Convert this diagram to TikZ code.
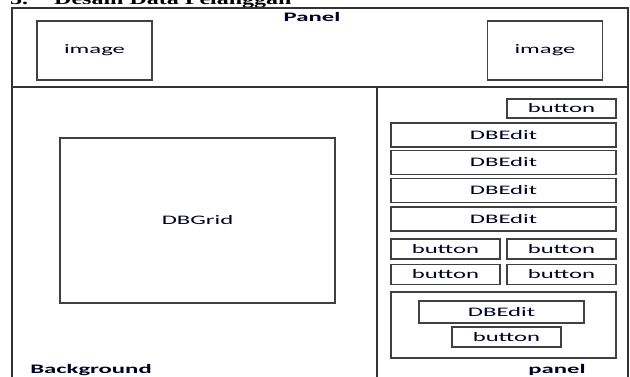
\documentclass[tikz,border=0pt]{standalone}
\usepackage{fontspec}
\setmainfont[FakeStretch=1.9]{Carlito}
\newfontfamily\headfont[FakeStretch=1.5]{Liberation Serif}
\begin{document}
\begin{tikzpicture}[x=1pt,y=-1pt,
  box/.style={rectangle,draw=black!75,line width=1.2pt,inner sep=0pt,font=\fontsize{13}{15}\selectfont,text=black!85!blue},
  lbl/.style={font=\fontsize{13}{15}\selectfont\bfseries,text=black!85!blue,inner sep=0pt},
  frame/.style={draw=black!80,line width=1.6pt}]
\useasboundingbox (0,0) rectangle (630,376);
\node[anchor=base west,inner sep=0pt,font=\fontsize{16}{18}\selectfont\headfont\bfseries] (head) at (10,4) {3.\hspace{26pt}Desain Data Pelanggan};
% frame
\draw[frame] (12,390) -- (12,8) -- (628,8) -- (628,390);
\draw[frame] (12,87) -- (628,87);
\draw[frame] (377,87) -- (377,390);
\node[lbl] (panel) at (312,17) {Panel};
\node[lbl] (bg) at (91,370) {Background};
\node[lbl] (pnl) at (557,370) {panel};
% header images
\node[box,minimum width=115,minimum height=59] (imgL) at (94.5,50.5) {image};
\node[box,minimum width=115,minimum height=59] (imgR) at (545,50.5) {image};
% grid
\node[box,minimum width=275,minimum height=165] (grid) at (197.5,220.5) {DBGrid};
% right panel
\node[box,minimum width=109,minimum height=19] (btnTop) at (561.5,108.5) {button};
\node[box,minimum width=225,minimum height=24] (editA) at (503.5,135) {DBEdit};
\node[box,minimum width=225,minimum height=24] (editB) at (503.5,162.5) {DBEdit};
\node[box,minimum width=225,minimum height=24] (editC) at (503.5,190.5) {DBEdit};
\node[box,minimum width=225,minimum height=24] (editD) at (503.5,219) {DBEdit};
\node[box,minimum width=109,minimum height=20] (btnA) at (445.5,249) {button};
\node[box,minimum width=109,minimum height=20] (btnB) at (561.5,249) {button};
\node[box,minimum width=109,minimum height=20] (btnC) at (445.5,274.5) {button};
\node[box,minimum width=109,minimum height=20] (btnD) at (561.5,274.5) {button};
\node[box,minimum width=225,minimum height=66] (inner) at (503.5,325) {};
\node[box,minimum width=165,minimum height=22] (editE) at (501.5,312) {DBEdit};
\node[box,minimum width=109,minimum height=20] (btnE) at (506.5,337) {button};
\end{tikzpicture}
\end{document}
